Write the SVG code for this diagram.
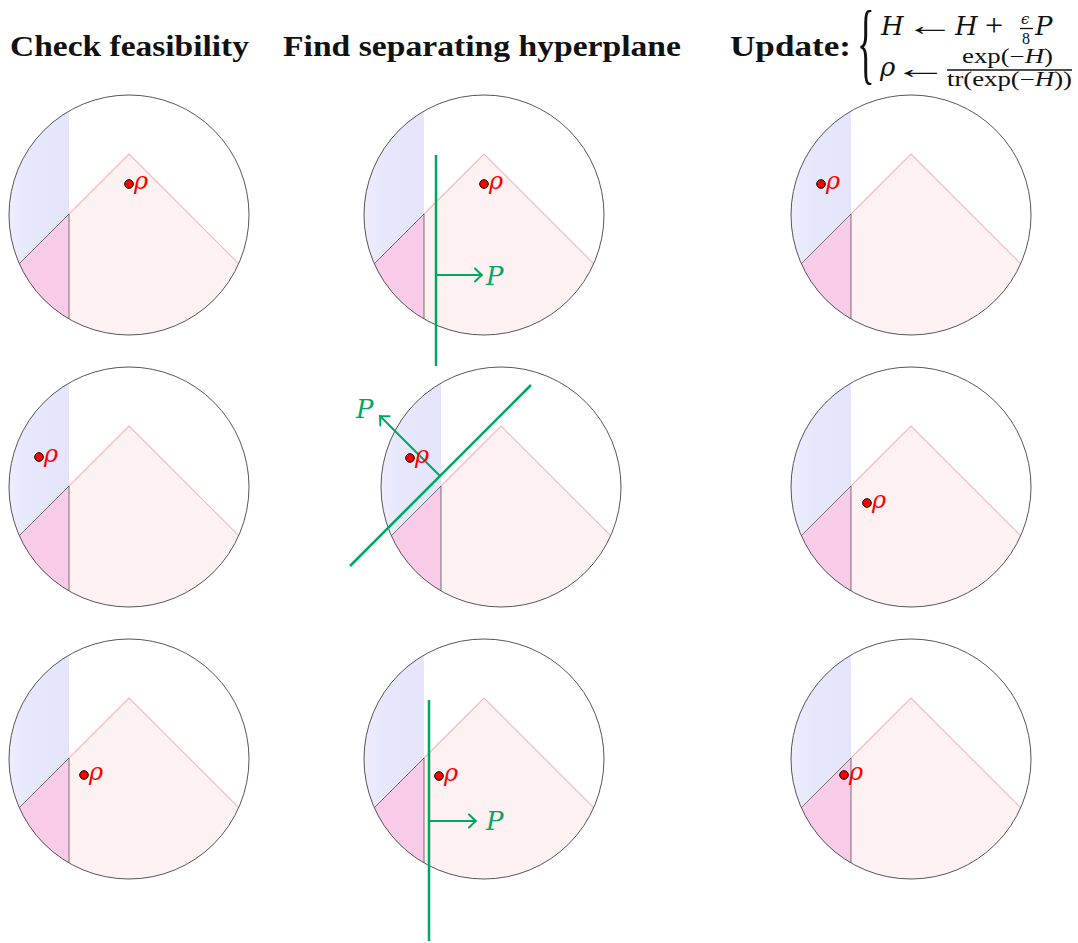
<svg xmlns="http://www.w3.org/2000/svg" xmlns:xlink="http://www.w3.org/1999/xlink" width="1078" height="943" viewBox="0 0 1078 943">
<style>
.hdr{font-family:"Liberation Serif","Times New Roman",serif;font-weight:bold;font-size:29px;fill:#111}
.mi{font-family:"DejaVu Serif","Liberation Serif",serif;font-style:italic;fill:#111}
.mr{font-family:"Liberation Serif","DejaVu Serif",serif;fill:#111}
.rho{font-family:"DejaVu Serif","Liberation Serif",serif;font-style:italic;font-size:24px;fill:#ff0000}
.pl{font-family:"DejaVu Serif","Liberation Serif",serif;font-style:italic;font-size:26px;fill:#00a762}
.dot{fill:#ff0000;stroke:#000;stroke-width:1}
.hyp{stroke:#00a762;stroke-width:2.5;fill:none}
.arr{stroke:#00a762;stroke-width:2;fill:none;marker-end:url(#ah)}
</style>
<defs>
<linearGradient id="bg" x1="0" y1="0" x2="1" y2="0">
<stop offset="0" stop-color="#ededfd"/>
<stop offset="0.35" stop-color="#e7e7fc"/>
<stop offset="1" stop-color="#e4e4fb"/>
</linearGradient>
<marker id="ah" markerUnits="userSpaceOnUse" markerWidth="20" markerHeight="20" viewBox="-10 -10 20 20" refX="0" refY="0" orient="auto">
<path d="M -7,-6.5 Q -2,-1.5 0,0 Q -2,1.5 -7,6.5" fill="none" stroke="#00a762" stroke-width="2" stroke-linecap="round"/>
</marker>
<g id="disk">
<path d="M 0,-61 L 109.7,48.7 A 120 120 0 0 1 -109.7,48.7 Z" fill="#fef1f1"/>
<path d="M -60,-103.9 L -60,-1 L -109.7,48.7 A 120 120 0 0 1 -60,-103.9 Z" fill="url(#bg)"/>
<path d="M -60,-1 L -60,103.9 A 120 120 0 0 1 -109.7,48.7 Z" fill="#f8cbe8"/>
<path d="M -60,-1 L 0,-61 L 109.7,48.7" fill="none" stroke="#f5b8b8" stroke-width="1.1"/>
<path d="M -60,103.9 L -60,-1 L -109.7,48.7" fill="none" stroke="#555" stroke-width="0.8"/>
<circle r="120" fill="none" stroke="#444" stroke-width="0.9"/>
</g>
</defs>
<rect width="1078" height="943" fill="#fff"/>

<g id="headers">
<text class="hdr" x="10" y="56" textLength="239" lengthAdjust="spacingAndGlyphs">Check feasibility</text>
<text class="hdr" x="283" y="56" textLength="398" lengthAdjust="spacingAndGlyphs">Find separating hyperplane</text>
<text class="hdr" x="730" y="56" textLength="121" lengthAdjust="spacingAndGlyphs">Update:</text>
</g>

<g id="formula">
<text class="mr" font-size="92" transform="translate(857,73) scale(0.4,1)">{</text>
<text class="mi" x="881" y="35" font-size="26">H</text>
<text class="mr" font-size="28" transform="translate(905,35) scale(1.8,1)">←</text>
<text class="mi" x="955" y="35" font-size="26">H</text>
<text class="mr" x="985" y="36" font-size="32">+</text>
<text x="1021" y="24" font-size="15" font-family="DejaVu Serif, serif" font-style="italic" fill="#111">ϵ</text>
<line x1="1020" y1="28.5" x2="1033" y2="28.5" stroke="#111" stroke-width="1.3"/>
<text class="mr" x="1022" y="44" font-size="16">8</text>
<text class="mi" x="1035" y="35" font-size="26">P</text>
<text class="mi" x="880" y="76" font-size="26">ρ</text>
<text class="mr" font-size="28" transform="translate(892,78) scale(2,1)">←</text>
<text class="mr" x="962" y="63" font-size="20" textLength="91" lengthAdjust="spacingAndGlyphs">exp(−<tspan font-style="italic">H</tspan>)</text>
<line x1="947" y1="70" x2="1072" y2="70" stroke="#111" stroke-width="1.3"/>
<text class="mr" x="947" y="86" font-size="20" textLength="125" lengthAdjust="spacingAndGlyphs">tr(exp(−<tspan font-style="italic">H</tspan>))</text>
</g>

<g id="panel-r1c1" transform="translate(129,215)"><use xlink:href="#disk" href="#disk"/></g>
<g id="panel-r1c2" transform="translate(484,215)"><use xlink:href="#disk" href="#disk"/></g>
<g id="panel-r1c3" transform="translate(911,215)"><use xlink:href="#disk" href="#disk"/></g>
<g id="panel-r2c1" transform="translate(129,487)"><use xlink:href="#disk" href="#disk"/></g>
<g id="panel-r2c2" transform="translate(501,487)"><use xlink:href="#disk" href="#disk"/></g>
<g id="panel-r2c3" transform="translate(911,487)"><use xlink:href="#disk" href="#disk"/></g>
<g id="panel-r3c1" transform="translate(129,759)"><use xlink:href="#disk" href="#disk"/></g>
<g id="panel-r3c2" transform="translate(484,759)"><use xlink:href="#disk" href="#disk"/></g>
<g id="panel-r3c3" transform="translate(911,759)"><use xlink:href="#disk" href="#disk"/></g>

<g id="connectors">
<line class="hyp" x1="436" y1="155" x2="436" y2="366"/>
<path class="arr" d="M 436,275 H 482"/>
<line class="hyp" x1="531" y1="385" x2="350" y2="566"/>
<path class="arr" d="M 440,476 L 380,416"/>
<line class="hyp" x1="429" y1="700" x2="429" y2="941"/>
<path class="arr" d="M 429,821 H 476"/>
</g>

<g id="hyperplane-labels">
<text class="pl" x="486" y="285">P</text>
<text class="pl" x="356" y="418">P</text>
<text class="pl" x="486" y="830">P</text>
</g>

<g id="states">
<g id="rho-r1c1"><circle class="dot" cx="129" cy="184" r="4.3"/><text class="rho" x="134" y="189">ρ</text></g>
<g id="rho-r1c2"><circle class="dot" cx="484" cy="184" r="4.3"/><text class="rho" x="489" y="189">ρ</text></g>
<g id="rho-r1c3"><circle class="dot" cx="821" cy="184" r="4.3"/><text class="rho" x="826" y="189">ρ</text></g>
<g id="rho-r2c1"><circle class="dot" cx="39" cy="457" r="4.3"/><text class="rho" x="44" y="462">ρ</text></g>
<g id="rho-r2c2"><circle class="dot" cx="410" cy="458" r="4.3"/><text class="rho" x="415" y="463">ρ</text></g>
<g id="rho-r2c3"><circle class="dot" cx="867" cy="503" r="4.3"/><text class="rho" x="872" y="508">ρ</text></g>
<g id="rho-r3c1"><circle class="dot" cx="84" cy="775" r="4.3"/><text class="rho" x="89" y="780">ρ</text></g>
<g id="rho-r3c2"><circle class="dot" cx="439" cy="776" r="4.3"/><text class="rho" x="444" y="781">ρ</text></g>
<g id="rho-r3c3"><circle class="dot" cx="844" cy="775" r="4.3"/><text class="rho" x="849" y="780">ρ</text></g>
</g>
</svg>
